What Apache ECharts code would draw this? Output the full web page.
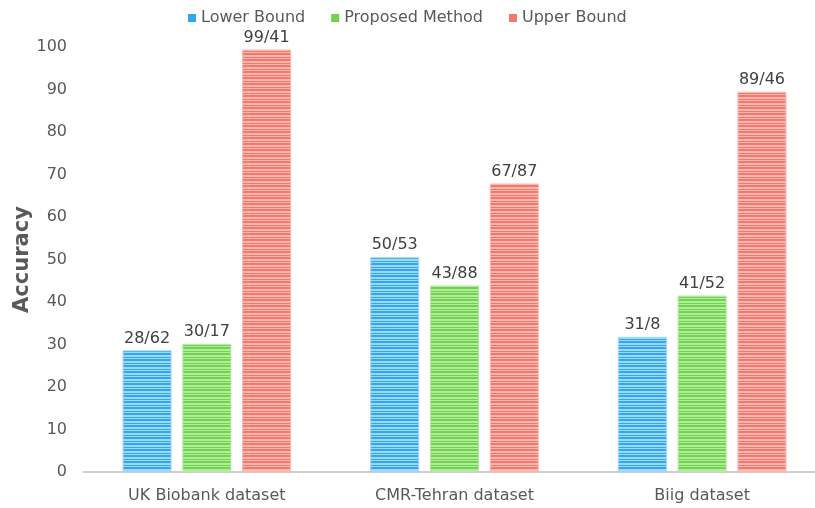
<!DOCTYPE html>
<html>
<head>
<meta charset="utf-8">
<script src="https://cdn.jsdelivr.net/npm/echarts@6/dist/echarts.min.js"></script>
<style>
  html, body { margin: 0; padding: 0; background: #fff; }
  #chart { width: 815px; height: 508px; }
</style>
</head>
<body>
<div id="chart"></div>
<script>
const categories = ["UK Biobank dataset", "CMR-Tehran dataset", "Biig dataset"];
const seriesNames = ["Lower Bound", "Proposed Method", "Upper Bound"];
const lowerBound = [28.62, 50.53, 31.8];
const proposed = [30.17, 43.88, 41.52];
const upperBound = [99.41, 67.87, 89.46];
// labels use "/" as the decimal mark, as in the original
const lowerLabels = ["28/62", "50/53", "31/8"];
const proposedLabels = ["30/17", "43/88", "41/52"];
const upperLabels = ["99/41", "67/87", "89/46"];

const baseColors = ["#2fa7f2", "#6fd44c", "#f4796d"];
const lightColors = ["#9fd6fa", "#b3eaa0", "#fab7b0"];

// horizontal stripe fill
function stripes(base, light) {
  const c = document.createElement("canvas");
  c.width = 4;
  c.height = 6;
  const ctx = c.getContext("2d");
  ctx.fillStyle = base;
  ctx.fillRect(0, 0, 4, 6);
  ctx.fillStyle = light;
  ctx.fillRect(0, 1, 4, 2);
  ctx.fillRect(0, 4, 4, 1);
  return { image: c, repeat: "repeat" };
}

const font = "DejaVu Sans";
const labelFont = { fontFamily: font, fontSize: 16, color: "#404040" };

function makeSeries(i, data, labels) {
  return {
    name: seriesNames[i],
    type: "bar",
    barWidth: 49,
    barGap: "22%",
    data: data,
    itemStyle: {
      color: stripes(baseColors[i], lightColors[i]),
      borderColor: lightColors[i],
      borderWidth: 1
    },
    label: {
      show: true,
      position: "top",
      distance: 4,
      ...labelFont,
      formatter: (p) => labels[p.dataIndex]
    }
  };
}

const chart = echarts.init(document.getElementById("chart"));
chart.setOption({
  animation: false,
  legend: {
    top: 5,
    left: 183,
    itemWidth: 8,
    itemHeight: 8,
    itemGap: 26,
    icon: "rect",
    textStyle: { fontFamily: font, fontSize: 16, color: "#595959" },
    data: seriesNames.map((n, i) => ({ name: n, itemStyle: { color: baseColors[i], borderWidth: 0 } }))
  },
  grid: { left: 83, top: 47, width: 743, bottom: 36, outerBoundsMode: "none" },
  xAxis: {
    type: "category",
    data: categories,
    axisTick: { show: false },
    axisLine: { lineStyle: { color: "#bfbfbf", width: 1.5 } },
    axisLabel: { fontFamily: font, fontSize: 16, color: "#595959", margin: 16 }
  },
  yAxis: {
    type: "value",
    min: 0,
    max: 100,
    interval: 10,
    name: "Accuracy",
    nameLocation: "middle",
    nameGap: 50,
    nameMoveOverlap: false,
    nameTextStyle: { fontFamily: font, fontSize: 21, fontWeight: "bold", color: "#595959" },
    splitLine: { show: false },
    axisLine: { show: false },
    axisTick: { show: false },
    axisLabel: { fontFamily: font, fontSize: 16, color: "#595959", margin: 16 }
  },
  series: [
    makeSeries(0, lowerBound, lowerLabels),
    makeSeries(1, proposed, proposedLabels),
    makeSeries(2, upperBound, upperLabels)
  ]
});
</script>
</body>
</html>
